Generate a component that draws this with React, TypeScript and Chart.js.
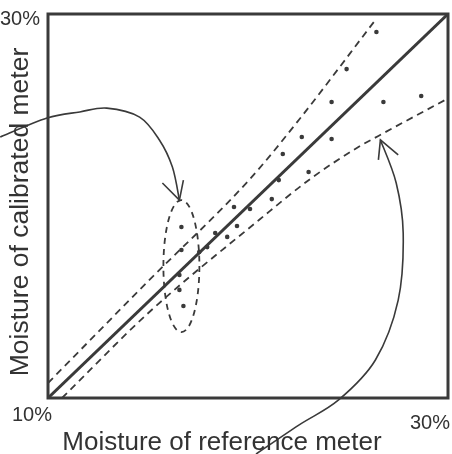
import React, { useEffect, useRef } from "react";
import { Chart, registerables } from "chart.js";
Chart.register(...registerables);

// ---- data ----
const xTickLabels = ["10%", "30%"];
const yTickLabels = ["10%", "30%"];
const xTitle = "Moisture of reference meter";
const yTitle = "Moisture of calibrated meter";

const refMoisture = [26.42, 24.93, 24.18, 26.77, 28.66, 22.69, 24.18, 21.74, 23.03, 21.54, 21.19, 20.1, 19.3, 19.45, 18.96, 18.36, 17.96, 17.56, 16.67, 16.67, 16.57, 16.57, 16.77];
const calMoisture = [29.06, 27.13, 25.42, 25.42, 25.73, 23.59, 23.49, 22.71, 21.77, 21.35, 20.36, 19.84, 19.95, 18.96, 18.39, 18.59, 17.86, 17.6, 18.91, 17.71, 16.41, 15.63, 14.79];

const fitX = [10, 30];
const fitY = [10, 30];
const upperX = [10, 15.07, 20.05, 22.54, 26.37];
const upperY = [10.78, 16.15, 21.35, 24.48, 29.69];
const lowerX = [10.7, 15.07, 20.55, 23.18, 25.52, 26.52, 29.85];
const lowerY = [10, 14.48, 19.27, 21.46, 23.07, 23.65, 25.52];

// highlighted cluster (data units)
const clusterCenter = [16.67, 16.87];
const clusterRadii = [0.9, 3.44];

// annotation arrows (data units)
const arrowLeftX = [7.61, 9.95, 11.59, 12.94, 14.58, 15.57, 16.22, 16.57];
const arrowLeftY = [23.59, 24.58, 24.9, 25.1, 24.63, 23.44, 22.03, 20.31];
const arrowLeftWingsX = [15.72, 16.77];
const arrowLeftWingsY = [21.2, 21.35];
const arrowRightX = [20.4, 22.54, 24.53, 26.37, 27.51, 27.76, 27.41, 26.62];
const arrowRightY = [7.08, 8.59, 9.9, 11.98, 15.1, 18.59, 21.2, 23.44];
const arrowRightWingsX = [26.52, 27.51];
const arrowRightWingsY = [22.4, 22.66];

const INK = "#3a3a3a";

function pts(xs: number[], ys: number[]) {
  return xs.map((x, i) => ({ x, y: ys[i] }));
}

function drawSmooth(ctx: CanvasRenderingContext2D, p: { x: number; y: number }[]) {
  ctx.beginPath();
  ctx.moveTo(p[0].x, p[0].y);
  for (let i = 0; i < p.length - 1; i++) {
    const p0 = p[i - 1] || p[i];
    const p1 = p[i];
    const p2 = p[i + 1];
    const p3 = p[i + 2] || p2;
    const c1x = p1.x + (p2.x - p0.x) / 6;
    const c1y = p1.y + (p2.y - p0.y) / 6;
    const c2x = p2.x - (p3.x - p1.x) / 6;
    const c2y = p2.y - (p3.y - p1.y) / 6;
    ctx.bezierCurveTo(c1x, c1y, c2x, c2y, p2.x, p2.y);
  }
  ctx.stroke();
}

const decor = {
  id: "decor",
  afterDatasetsDraw(chart: any) {
    const { ctx, chartArea: a, scales } = chart;
    const xs = scales.x;
    const ys = scales.y;
    const px = (v: number) => xs.getPixelForValue(v);
    const py = (v: number) => ys.getPixelForValue(v);
    ctx.save();
    // frame
    ctx.strokeStyle = INK;
    ctx.lineWidth = 3;
    ctx.strokeRect(a.left, a.top, a.right - a.left, a.bottom - a.top);

    // ellipse
    ctx.lineWidth = 1.8;
    ctx.setLineDash([6, 5]);
    ctx.beginPath();
    const cx = px(clusterCenter[0]);
    const cy = py(clusterCenter[1]);
    const rx = Math.abs(px(clusterCenter[0] + clusterRadii[0]) - cx);
    const ry = Math.abs(py(clusterCenter[1] + clusterRadii[1]) - cy);
    ctx.ellipse(cx, cy, rx, ry, 0, 0, Math.PI * 2);
    ctx.stroke();
    ctx.setLineDash([]);

    // arrows
    ctx.lineWidth = 1.6;
    const arrows = [
      [arrowLeftX, arrowLeftY, arrowLeftWingsX, arrowLeftWingsY],
      [arrowRightX, arrowRightY, arrowRightWingsX, arrowRightWingsY],
    ];
    for (const [ax, ay, wx, wy] of arrows) {
      const p = ax.map((x: number, i: number) => ({ x: px(x), y: py(ay[i]) }));
      drawSmooth(ctx, p);
      const tip = p[p.length - 1];
      ctx.beginPath();
      ctx.moveTo(px(wx[0]), py(wy[0]));
      ctx.lineTo(tip.x, tip.y);
      ctx.lineTo(px(wx[1]), py(wy[1]));
      ctx.stroke();
    }

    // texts
    ctx.fillStyle = "#333";
    ctx.font = "20px 'Liberation Sans', Arial, sans-serif";
    ctx.textBaseline = "middle";
    ctx.textAlign = "right";
    ctx.fillText(yTickLabels[1], a.left - 8, a.top + 5);
    ctx.textAlign = "center";
    ctx.fillText(xTickLabels[0], a.left - 16, a.bottom + 17);
    ctx.textAlign = "right";
    ctx.fillText(xTickLabels[1], a.right + 2, a.bottom + 25);

    ctx.font = "26px 'Liberation Sans', Arial, sans-serif";
    ctx.textAlign = "center";
    ctx.fillText(xTitle, 222, a.bottom + 45);
    ctx.font = "26.5px 'Liberation Sans', Arial, sans-serif";
    ctx.translate(21, 212);
    ctx.rotate(-Math.PI / 2);
    ctx.fillText(yTitle, 0, 0);
    ctx.restore();
  },
};

export default function App() {
  const ref = useRef<HTMLCanvasElement>(null);
  useEffect(() => {
    document.body.style.margin = "0";
    const chart = new Chart(ref.current!, {
      type: "scatter",
      data: {
        datasets: [
          {
            type: "line",
            data: pts(fitX, fitY),
            borderColor: INK,
            borderWidth: 3,
            pointRadius: 0,
          },
          {
            type: "line",
            data: pts(upperX, upperY),
            borderColor: INK,
            borderWidth: 1.8,
            borderDash: [7, 5],
            pointRadius: 0,
            cubicInterpolationMode: "monotone",
          },
          {
            type: "line",
            data: pts(lowerX, lowerY),
            borderColor: INK,
            borderWidth: 1.8,
            borderDash: [7, 5],
            pointRadius: 0,
            cubicInterpolationMode: "monotone",
          },
          {
            data: pts(refMoisture, calMoisture),
            backgroundColor: INK,
            borderWidth: 0,
            pointRadius: 2.3,
          },
        ] as any,
      },
      options: {
        animation: false,
        responsive: false,
        events: [],
        layout: { padding: { left: 48, top: 14, right: 2, bottom: 56 } },
        plugins: { legend: { display: false }, tooltip: { enabled: false } },
        scales: {
          x: { type: "linear", min: 10, max: 30, display: false },
          y: { type: "linear", min: 10, max: 30, display: false },
        },
      },
      plugins: [decor],
    });
    return () => chart.destroy();
  }, []);
  return (
    <div style={{ width: 452, height: 454, background: "#fff" }}>
      <canvas ref={ref} width={452} height={454} style={{ display: "block" }} />
    </div>
  );
}
